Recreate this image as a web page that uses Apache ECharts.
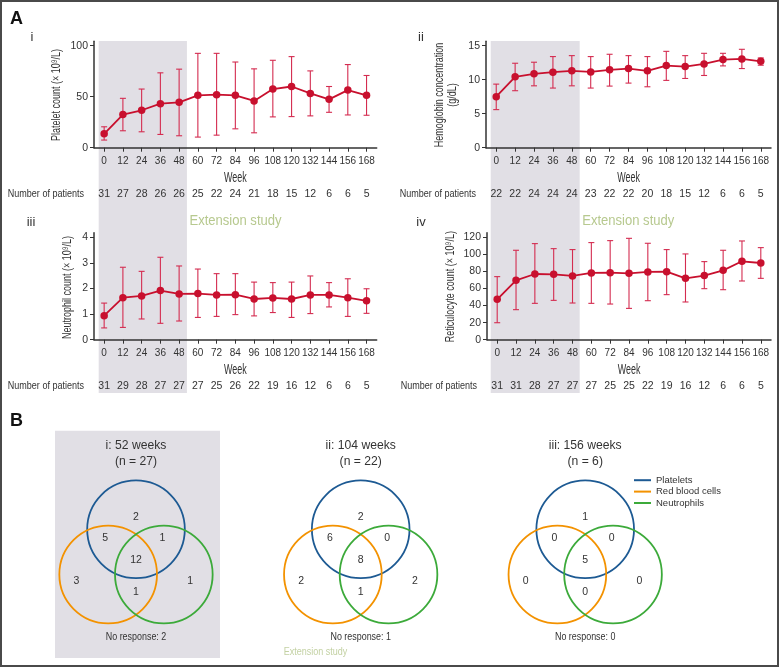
<!DOCTYPE html>
<html><head><meta charset="utf-8">
<script src="https://cdn.jsdelivr.net/npm/echarts@6/dist/echarts.min.js"></script>
<style>html,body{margin:0;padding:0;background:#fff}#c{width:780px;height:668px}</style>
</head><body><div id="c"></div><script>
// ---------- DATA ----------
const weeks = [0, 12, 24, 36, 48, 60, 72, 84, 96, 108, 120, 132, 144, 156, 168];

const plateletMean = [13.6, 32.5, 36.7, 43.2, 44.5, 51.3, 52.0, 51.3, 45.8, 57.5, 60.0, 53.2, 47.4, 56.5, 51.3];
const plateletLow  = [7.5, 16.6, 15.6, 13.0, 11.7, 10.4, 12.3, 18.5, 14.6, 30.2, 30.5, 31.2, 34.7, 32.1, 31.8];
const plateletHigh = [20.5, 48.4, 57.5, 73.4, 77.0, 92.5, 92.5, 84.0, 77.3, 85.7, 89.3, 75.3, 60.0, 81.5, 70.8];
const plateletPatients = [31, 27, 28, 26, 26, 25, 22, 24, 21, 18, 15, 12, 6, 6, 5];

const hemoglobinMean = [7.5, 10.42, 10.86, 11.1, 11.3, 11.15, 11.45, 11.64, 11.3, 12.08, 11.93, 12.32, 12.96, 13.05, 12.71];
const hemoglobinLow  = [5.6, 8.38, 9.1, 8.77, 9.1, 8.77, 9.06, 9.5, 8.96, 9.9, 10.18, 10.62, 12.03, 11.64, 12.13];
const hemoglobinHigh = [9.35, 12.42, 12.57, 13.4, 13.54, 13.4, 13.74, 13.54, 13.4, 14.17, 13.54, 13.88, 13.88, 14.47, 13.2];
const hemoglobinPatients = [22, 22, 24, 24, 24, 23, 22, 22, 20, 18, 15, 12, 6, 6, 5];

const neutrophilMean = [0.94, 1.64, 1.71, 1.92, 1.79, 1.80, 1.75, 1.76, 1.59, 1.63, 1.59, 1.75, 1.75, 1.64, 1.52];
const neutrophilLow  = [0.46, 0.48, 0.81, 0.64, 0.73, 0.87, 0.91, 0.98, 0.93, 1.06, 0.87, 1.02, 1.28, 0.91, 1.03];
const neutrophilHigh = [1.43, 2.83, 2.67, 3.22, 2.88, 2.76, 2.58, 2.58, 2.25, 2.23, 2.25, 2.49, 2.23, 2.38, 1.99];
const neutrophilPatients = [31, 29, 28, 27, 27, 27, 25, 26, 22, 19, 16, 12, 6, 6, 5];

const reticulocyteMean = [47.3, 69.6, 77.0, 76.6, 74.7, 78.2, 78.6, 77.8, 79.4, 79.7, 71.9, 75.1, 81.3, 91.9, 89.9];
const reticulocyteLow  = [19.9, 35.2, 42.6, 46.1, 43.0, 42.6, 41.8, 36.7, 45.7, 52.8, 44.2, 59.8, 58.6, 68.8, 71.9];
const reticulocyteHigh = [73.9, 104.8, 112.6, 106.7, 105.6, 113.8, 116.1, 118.8, 113.0, 105.6, 100.5, 91.5, 104.8, 115.7, 107.9];
const reticulocytePatients = [31, 31, 28, 27, 27, 27, 25, 25, 22, 19, 16, 12, 6, 6, 5];

const plateletTicks = [0, 50, 100];
const hemoglobinTicks = [0, 5, 10, 15];
const neutrophilTicks = [0, 1, 2, 3, 4];
const reticulocyteTicks = [0, 20, 40, 60, 80, 100, 120];

// Venn: [platelets only, platelets+RBC, platelets+neutrophils, all three, RBC only, neutrophils only, RBC+neutrophils]
const vennTitles = ['i: 52 weeks', 'ii: 104 weeks', 'iii: 156 weeks'];
const vennN = [27, 22, 6];
const vennCounts = [
  [2, 5, 1, 12, 3, 1, 1],
  [2, 6, 0, 8, 2, 2, 1],
  [1, 0, 0, 5, 0, 0, 0]
];
const vennNoResponse = [2, 1, 0];
const vennSets = ['Platelets', 'Red blood cells', 'Neutrophils'];

// ---------- STYLE / LAYOUT ----------
const FONT = "'Liberation Sans', Arial, Helvetica, sans-serif";
const RED = '#c8102e';
const ERR = '#d42c50';
const SHADE = '#e1dfe5';
const TXT = '#333';
const EXT_GREEN = '#b7c98f';
const vennColors = ['#1d5a93', '#f39200', '#3caa3a'];
const X_MIN = -6.5, X_MAX = 174.5;

const panels = [
  { label: 'i', labelX: 32, labelY: 37, name: ['Platelet count (× 10⁹/L)'], nameX: 57, nameY: 95, mean: plateletMean, low: plateletLow, high: plateletHigh, pts: plateletPatients, ticks: plateletTicks, left: 94, top: 41.2, width: 282.7, height: 106.5, patientOffset: 46.3 },
  { label: 'ii', labelX: 421, labelY: 37, name: ['Hemoglobin concentration', '(g/dL)'], nameX: 446, nameY: 95, mean: hemoglobinMean, low: hemoglobinLow, high: hemoglobinHigh, pts: hemoglobinPatients, ticks: hemoglobinTicks, left: 486, top: 41.2, width: 285, height: 106.5, patientOffset: 46.3 },
  { label: 'iii', labelX: 31, labelY: 222, name: ['Neutrophil count (× 10⁹/L)'], nameX: 68, nameY: 287.5, mean: neutrophilMean, low: neutrophilLow, high: neutrophilHigh, pts: neutrophilPatients, ticks: neutrophilTicks, left: 94, top: 232.8, width: 282.7, height: 106.9, patientOffset: 46 },
  { label: 'iv', labelX: 421, labelY: 222, name: ['Reticulocyte count (× 10⁹/L)'], nameX: 451, nameY: 286.7, mean: reticulocyteMean, low: reticulocyteLow, high: reticulocyteHigh, pts: reticulocytePatients, ticks: reticulocyteTicks, left: 487, top: 232.8, width: 284, height: 106.9, patientOffset: 46 }
];

const grids = [], xAxes = [], yAxes = [], series = [];

panels.forEach((p, i) => {
  grids.push({ left: p.left, top: p.top, width: p.width, height: p.height, outerBoundsMode: 'none', containLabel: false });
  const topTick = p.ticks[p.ticks.length - 1];
  const yMax = topTick * p.height / (p.height - 4.5);
  xAxes.push({
    type: 'value', gridIndex: i, min: X_MIN, max: X_MAX,
    axisLine: { show: true, onZero: false, lineStyle: { color: TXT, width: 1.5 } },
    axisTick: { show: true, length: 4, customValues: weeks, lineStyle: { color: TXT } },
    axisLabel: { customValues: weeks, margin: 9, fontFamily: FONT, fontSize: 10, color: TXT },
    splitLine: { show: false }
  });
  yAxes.push({
    type: 'value', gridIndex: i, min: 0, max: yMax,
    axisLine: { show: true, onZero: false, lineStyle: { color: TXT, width: 1.5 } },
    axisTick: { show: true, length: 4, customValues: p.ticks, lineStyle: { color: TXT } },
    axisLabel: { customValues: p.ticks, margin: 6, fontFamily: FONT, fontSize: 10.5, color: TXT },
    splitLine: { show: false }
  });
});
// patient-count rows (as secondary x axes)
panels.forEach((p, i) => {
  xAxes.push({
    type: 'value', gridIndex: i, min: X_MIN, max: X_MAX, position: 'bottom', offset: p.patientOffset,
    axisLine: { show: false, onZero: false }, axisTick: { show: false }, splitLine: { show: false },
    axisLabel: { customValues: weeks, margin: 0, verticalAlign: 'middle', fontFamily: FONT, fontSize: 10.5, color: TXT,
      formatter: v => String(p.pts[weeks.indexOf(v)]) }
  });
});

panels.forEach((p, i) => {
  series.push({
    type: 'custom', xAxisIndex: i, yAxisIndex: i, z: 3,
    data: weeks.map((w, k) => [w, p.low[k], p.high[k]]),
    renderItem: (params, api) => {
      const lo = api.coord([api.value(0), api.value(1)]);
      const hi = api.coord([api.value(0), api.value(2)]);
      const h = 3;
      const st = { stroke: ERR, lineWidth: 1.1 };
      return { type: 'group', children: [
        { type: 'line', shape: { x1: lo[0], y1: lo[1], x2: hi[0], y2: hi[1] }, style: st },
        { type: 'line', shape: { x1: lo[0] - h, y1: lo[1], x2: lo[0] + h, y2: lo[1] }, style: st },
        { type: 'line', shape: { x1: hi[0] - h, y1: hi[1], x2: hi[0] + h, y2: hi[1] }, style: st }
      ]};
    }
  });
  series.push({
    type: 'line', xAxisIndex: i, yAxisIndex: i, z: 4,
    data: weeks.map((w, k) => [w, p.mean[k]]),
    symbol: 'circle', symbolSize: 7.5, showSymbol: true,
    lineStyle: { color: RED, width: 1.8 }, itemStyle: { color: RED },
    animation: false
  });
});

// ---------- VENN ----------
const VENN_CX = [136, 360.7, 585.2], VENN_CY = 551.9, VENN_HALF = 83, VENN_R = 1.7;
const circleCenters = [[0, 0.463], [-0.57, -0.463], [0.57, -0.463]];
const countPositions = [[0, 0.72], [-0.63, 0.29], [0.54, 0.29], [0, -0.166], [-1.22, -0.6], [1.11, -0.6], [0, -0.816]];

VENN_CX.forEach((cx, v) => {
  const gi = grids.length;
  grids.push({ left: cx - VENN_HALF, top: VENN_CY - VENN_HALF, width: 2 * VENN_HALF, height: 2 * VENN_HALF, outerBoundsMode: 'none' });
  xAxes.push({ type: 'value', gridIndex: gi, min: -VENN_R, max: VENN_R, show: false });
  yAxes.push({ type: 'value', gridIndex: gi, min: -VENN_R, max: VENN_R, show: false });
  const xi = xAxes.length - 1, yi = yAxes.length - 1;
  vennSets.forEach((s, k) => {
    series.push({
      type: 'custom', name: s, xAxisIndex: xi, yAxisIndex: yi, z: 3,
      itemStyle: { color: vennColors[k] },
      data: [[circleCenters[k][0], circleCenters[k][1], 1]],
      renderItem: (params, api) => {
        const c = api.coord([api.value(0), api.value(1)]);
        const r = api.size([api.value(2), 0])[0];
        return { type: 'circle', shape: { cx: c[0], cy: c[1], r: r }, style: { fill: 'none', stroke: vennColors[k], lineWidth: 1.8 } };
      }
    });
  });
  series.push({
    type: 'custom', xAxisIndex: xi, yAxisIndex: yi, z: 4,
    data: vennCounts[v].map((n, k) => [countPositions[k][0], countPositions[k][1], n]),
    renderItem: (params, api) => {
      const c = api.coord([api.value(0), api.value(1)]);
      return { type: 'text', x: c[0], y: c[1], style: { text: String(api.value(2)), font: '10.5px ' + FONT, fill: TXT, align: 'center', verticalAlign: 'middle' } };
    }
  });
});

// ---------- TEXT / DECORATION ----------
function txt(text, x, y, font, fill, align, sx, extra) {
  return Object.assign({ type: 'text', x: x, y: y, z: 5, scaleX: sx || 1,
    style: { text: text, font: font, fill: fill || TXT, align: align || 'left', verticalAlign: 'middle', lineHeight: 12.5 } }, extra || {});
}
const graphics = [
  { type: 'rect', z: -10, shape: { x: 1, y: 1, width: 777, height: 665 }, style: { fill: 'none', stroke: '#4a4a4a', lineWidth: 2 } },
  { type: 'rect', z: -10, shape: { x: 55, y: 430.7, width: 165, height: 227.3 }, style: { fill: SHADE } },
  txt('A', 10, 19, 'bold 18px ' + FONT, '#111'),
  txt('B', 10, 421, 'bold 18px ' + FONT, '#111'),
  txt('Extension study', 315.5, 652.3, '10px ' + FONT, '#c3d1a3', 'center', 0.9)
];
panels.forEach(p => {
  graphics.push(txt(p.label, p.labelX, p.labelY, '13px ' + FONT, TXT, 'center'));
  graphics.push(txt(p.name.join('\n'), p.nameX, p.nameY, '12.5px ' + FONT, TXT, 'center', 0.72, { rotation: Math.PI / 2 }));
  graphics.push(txt('Week', p.left + p.width / 2, p.top + p.height + 30, '14px ' + FONT, TXT, 'center', 0.64));
  graphics.push(txt('Number of patients', p.left - 10, p.top + p.height + p.patientOffset, '11px ' + FONT, TXT, 'right', 0.82));
});
VENN_CX.forEach((cx, v) => {
  graphics.push(txt(vennTitles[v], cx, 445.7, '13.5px ' + FONT, TXT, 'center', 0.9));
  graphics.push(txt('(n = ' + vennN[v] + ')', cx, 461.5, '13.5px ' + FONT, TXT, 'center', 0.9));
  graphics.push(txt('No response: ' + vennNoResponse[v], cx, 636.7, '10.5px ' + FONT, TXT, 'center', 0.85));
});

const chart = echarts.init(document.getElementById('c'), null, { renderer: 'canvas' });
chart.setOption({
  animation: false,
  backgroundColor: '#fff',
  grid: grids, xAxis: xAxes, yAxis: yAxes, series: series,
  legend: {
    data: vennSets, orient: 'vertical', left: 634, top: 474.5, itemWidth: 17, itemHeight: 2, itemGap: 0,
    icon: 'rect', selectedMode: false, padding: 0,
    textStyle: { fontFamily: FONT, fontSize: 9.5, color: TXT, lineHeight: 11.4 }
  },
  graphic: graphics
});

// shaded "core study" band (weeks -3.5 .. 53) spanning both rows
const SHADE_FROM = -3.5, SHADE_TO = 53;
const extra = [];
[0, 1].forEach(col => {
  const x0 = chart.convertToPixel({ xAxisIndex: col }, SHADE_FROM);
  const x1 = chart.convertToPixel({ xAxisIndex: col }, SHADE_TO);
  extra.push({ type: 'rect', z: -10, shape: { x: x0, y: 41, width: x1 - x0, height: 352 }, style: { fill: SHADE } });
  extra.push(txt('Extension study', x1 + 2.5, 221, '15px ' + FONT, EXT_GREEN, 'left', 0.87));
});
chart.setOption({ graphic: graphics.concat(extra) });
</script></body></html>
